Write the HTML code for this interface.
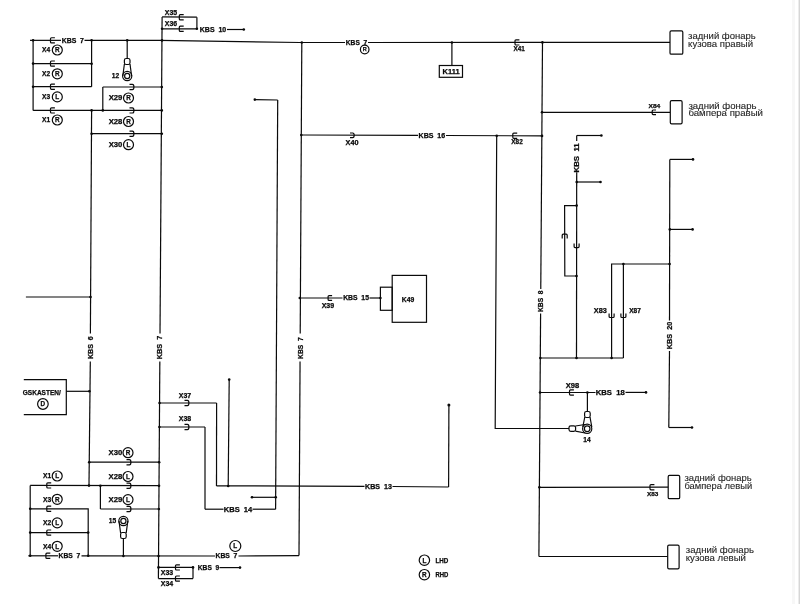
<!DOCTYPE html>
<html><head><meta charset="utf-8">
<style>
html,body{margin:0;padding:0;background:#fff;}
body{width:800px;height:604px;overflow:hidden;position:relative;}
svg{position:absolute;left:0;top:0;will-change:transform;}
path{fill:none;stroke:#0a0a0a;stroke-width:1.2;stroke-linejoin:miter;}
.o{fill:none;stroke:#0a0a0a;stroke-width:1.2;}
.f{fill:#0a0a0a;stroke:none;}
.t{font-family:"Liberation Sans",sans-serif;fill:#0a0a0a;font-weight:bold;stroke:#0a0a0a;stroke-width:0.25;}
.tb{font-family:"Liberation Sans",sans-serif;fill:#0a0a0a;font-weight:bold;stroke:#0a0a0a;stroke-width:0.25;}
.ru{font-family:"Liberation Sans",sans-serif;fill:#262626;font-size:9.2px;stroke:#262626;stroke-width:0.12;}
#edge{position:absolute;left:792px;top:0;width:3px;height:604px;background:#f7f7f7;}
#edge2{position:absolute;left:798px;top:0;width:1px;height:604px;background:#ececec;}
#edge3{position:absolute;left:799px;top:0;width:1px;height:604px;background:#d6d6d6;}
</style></head>
<body>
<div id="edge"></div><div id="edge2"></div><div id="edge3"></div>
<svg width="800" height="604" viewBox="0 0 800 604">
<path d="M30.00 40.35 L61.00 40.35"/>
<path d="M54.90 37.75 H51.50 Q50.50 37.75 50.50 38.75 V41.95 Q50.50 42.95 51.50 42.95 H54.90"/>
<text x="61.70" y="42.91" font-size="6.6" text-anchor="start" class="t" textLength="22.25" lengthAdjust="spacingAndGlyphs">KBS&#160;&#160;7</text>
<path d="M84.50 40.35 L160.00 40.35 L300.00 42.50 L345.00 42.49"/>
<text x="345.80" y="45.11" font-size="6.6" text-anchor="start" class="t" textLength="21.40" lengthAdjust="spacingAndGlyphs">KBS&#160;&#160;7</text>
<circle cx="364.70" cy="49.50" r="4.3" class="o"/>
<text x="364.70" y="51.48" font-size="5.5" text-anchor="middle" class="t">R</text>
<path d="M368.00 42.48 L670.00 42.40"/>
<circle cx="33.10" cy="40.35" r="1.3" class="f"/>
<circle cx="91.60" cy="40.35" r="1.3" class="f"/>
<circle cx="127.20" cy="40.35" r="1.3" class="f"/>
<circle cx="162.00" cy="40.40" r="1.3" class="f"/>
<circle cx="301.80" cy="42.50" r="1.3" class="f"/>
<circle cx="451.90" cy="42.45" r="1.3" class="f"/>
<circle cx="542.40" cy="42.40" r="1.3" class="f"/>
<path d="M519.40 39.80 H516.00 Q515.00 39.80 515.00 40.80 V44.00 Q515.00 45.00 516.00 45.00 H519.40"/>
<text x="513.40" y="51.31" font-size="6.6" text-anchor="start" class="t" textLength="11.30" lengthAdjust="spacingAndGlyphs">X41</text>
<path d="M33.10 40.40 L33.10 110.40"/>
<path d="M33.10 63.60 L91.60 63.70"/>
<path d="M33.10 86.70 L91.60 86.70"/>
<path d="M91.60 40.50 L91.60 86.70"/>
<path d="M33.10 110.40 L161.80 110.40"/>
<path d="M54.90 61.00 H51.50 Q50.50 61.00 50.50 62.00 V65.20 Q50.50 66.20 51.50 66.20 H54.90"/>
<circle cx="33.10" cy="63.60" r="1.3" class="f"/>
<path d="M54.90 84.10 H51.50 Q50.50 84.10 50.50 85.10 V88.30 Q50.50 89.30 51.50 89.30 H54.90"/>
<circle cx="33.10" cy="86.70" r="1.3" class="f"/>
<path d="M54.90 107.80 H51.50 Q50.50 107.80 50.50 108.80 V112.00 Q50.50 113.00 51.50 113.00 H54.90"/>
<circle cx="91.60" cy="63.70" r="1.3" class="f"/>
<text x="42.10" y="52.41" font-size="6.6" text-anchor="start" class="t" textLength="8.10" lengthAdjust="spacingAndGlyphs">X4</text>
<circle cx="57.30" cy="50.00" r="5.0" class="o"/>
<text x="57.30" y="52.30" font-size="6.4" text-anchor="middle" class="t">R</text>
<text x="42.10" y="76.21" font-size="6.6" text-anchor="start" class="t" textLength="8.10" lengthAdjust="spacingAndGlyphs">X2</text>
<circle cx="57.30" cy="73.80" r="5.0" class="o"/>
<text x="57.30" y="76.10" font-size="6.4" text-anchor="middle" class="t">R</text>
<text x="42.10" y="99.31" font-size="6.6" text-anchor="start" class="t" textLength="8.10" lengthAdjust="spacingAndGlyphs">X3</text>
<circle cx="57.30" cy="96.90" r="5.0" class="o"/>
<text x="57.30" y="99.20" font-size="6.4" text-anchor="middle" class="t">L</text>
<text x="42.10" y="122.41" font-size="6.6" text-anchor="start" class="t" textLength="8.10" lengthAdjust="spacingAndGlyphs">X1</text>
<circle cx="57.30" cy="120.00" r="5.0" class="o"/>
<text x="57.30" y="122.30" font-size="6.4" text-anchor="middle" class="t">R</text>
<path d="M91.60 110.40 L90.40 333.50"/>
<text x="-11.45" y="2.41" font-size="6.6" class="t" textLength="22.90" lengthAdjust="spacingAndGlyphs" transform="translate(90.30 347.65) rotate(-90)">KBS&#160;&#160;6</text>
<path d="M90.30 361.50 L89.00 485.50"/>
<circle cx="91.60" cy="110.40" r="1.3" class="f"/>
<circle cx="91.60" cy="133.70" r="1.3" class="f"/>
<path d="M91.60 133.70 L161.80 133.70"/>
<path d="M25.90 297.00 L90.50 297.00"/>
<circle cx="90.50" cy="297.00" r="1.3" class="f"/>
<path d="M66.30 391.30 L89.40 391.30"/>
<circle cx="89.40" cy="391.30" r="1.3" class="f"/>
<path d="M89.20 462.20 L159.00 462.20"/>
<circle cx="89.20" cy="462.20" r="1.3" class="f"/>
<path d="M102.80 86.90 L102.80 110.40"/>
<circle cx="102.80" cy="110.40" r="1.3" class="f"/>
<path d="M102.80 87.00 L161.80 87.00"/>
<path d="M129.50 84.40 H132.40 Q133.90 84.40 133.90 87.00 Q133.90 89.60 132.40 89.60 H129.50"/>
<circle cx="161.80" cy="87.00" r="1.3" class="f"/>
<path d="M129.50 107.80 H132.40 Q133.90 107.80 133.90 110.40 Q133.90 113.00 132.40 113.00 H129.50"/>
<circle cx="161.80" cy="110.40" r="1.3" class="f"/>
<path d="M129.50 131.10 H132.40 Q133.90 131.10 133.90 133.70 Q133.90 136.30 132.40 136.30 H129.50"/>
<circle cx="161.80" cy="133.70" r="1.3" class="f"/>
<text x="108.70" y="100.41" font-size="6.6" text-anchor="start" class="t" textLength="13.70" lengthAdjust="spacingAndGlyphs">X29</text>
<circle cx="128.50" cy="98.00" r="5.0" class="o"/>
<text x="128.50" y="100.30" font-size="6.4" text-anchor="middle" class="t">R</text>
<text x="108.70" y="123.91" font-size="6.6" text-anchor="start" class="t" textLength="13.70" lengthAdjust="spacingAndGlyphs">X28</text>
<circle cx="128.50" cy="121.50" r="5.0" class="o"/>
<text x="128.50" y="123.80" font-size="6.4" text-anchor="middle" class="t">R</text>
<text x="108.70" y="147.11" font-size="6.6" text-anchor="start" class="t" textLength="13.70" lengthAdjust="spacingAndGlyphs">X30</text>
<circle cx="128.50" cy="144.70" r="5.0" class="o"/>
<text x="128.50" y="147.00" font-size="6.4" text-anchor="middle" class="t">L</text>
<path d="M127.20 40.35 L127.20 58.50"/>
<rect x="124.40" y="58.50" width="5.6" height="6.00" rx="1.8" class="o"/>
<path d="M124.40 64.00 L122.80 76.00 M130.00 64.00 L131.60 76.00"/>
<circle cx="127.20" cy="76.00" r="4.6" class="o"/>
<circle cx="127.20" cy="76.00" r="2.6" class="o"/>
<text x="111.80" y="78.41" font-size="6.6" text-anchor="start" class="t" textLength="7.40" lengthAdjust="spacingAndGlyphs">12</text>
<path d="M162.10 16.90 L160.01 333.50"/>
<text x="-11.70" y="2.41" font-size="6.6" class="t" textLength="23.40" lengthAdjust="spacingAndGlyphs" transform="translate(159.92 347.50) rotate(-90)">KBS&#160;&#160;7</text>
<path d="M159.83 361.50 L158.40 578.60"/>
<path d="M162.10 16.90 L196.90 17.20"/>
<path d="M196.90 17.20 L196.90 28.80"/>
<path d="M162.10 28.80 L196.90 28.80"/>
<path d="M183.70 14.70 H180.30 Q179.30 14.70 179.30 15.70 V18.90 Q179.30 19.90 180.30 19.90 H183.70"/>
<path d="M183.70 26.20 H180.30 Q179.30 26.20 179.30 27.20 V30.40 Q179.30 31.40 180.30 31.40 H183.70"/>
<circle cx="162.10" cy="28.80" r="1.3" class="f"/>
<circle cx="196.90" cy="28.80" r="1.3" class="f"/>
<text x="164.80" y="14.91" font-size="6.6" text-anchor="start" class="t" textLength="12.30" lengthAdjust="spacingAndGlyphs">X35</text>
<text x="164.80" y="26.16" font-size="6.6" text-anchor="start" class="t" textLength="12.30" lengthAdjust="spacingAndGlyphs">X36</text>
<text x="199.80" y="31.91" font-size="6.6" text-anchor="start" class="t" textLength="26.40" lengthAdjust="spacingAndGlyphs">KBS&#160;&#160;10</text>
<path d="M227.00 29.50 L243.80 29.50"/>
<circle cx="243.80" cy="29.50" r="1.3" class="f"/>
<path d="M301.80 42.50 L300.21 333.50"/>
<text x="-10.82" y="2.41" font-size="6.6" class="t" textLength="21.65" lengthAdjust="spacingAndGlyphs" transform="translate(300.14 348.12) rotate(-90)">KBS&#160;&#160;7</text>
<path d="M300.06 361.50 L299.00 555.60"/>
<circle cx="301.29" cy="135.00" r="1.3" class="f"/>
<path d="M301.29 135.00 L418.00 135.30"/>
<path d="M350.00 133.00 H352.70 Q354.20 133.00 354.20 135.30 Q354.20 137.60 352.70 137.60 H350.00"/>
<text x="345.55" y="145.41" font-size="6.6" text-anchor="start" class="t" textLength="12.90" lengthAdjust="spacingAndGlyphs">X40</text>
<text x="418.55" y="137.91" font-size="6.6" text-anchor="start" class="t" textLength="26.65" lengthAdjust="spacingAndGlyphs">KBS&#160;&#160;16</text>
<path d="M446.00 135.50 L542.00 135.90"/>
<circle cx="496.70" cy="135.80" r="1.3" class="f"/>
<path d="M517.20 133.10 H513.80 Q512.80 133.10 512.80 134.10 V137.30 Q512.80 138.30 513.80 138.30 H517.20"/>
<text x="511.30" y="144.41" font-size="6.6" text-anchor="start" class="t" textLength="11.40" lengthAdjust="spacingAndGlyphs">X82</text>
<circle cx="542.00" cy="135.90" r="1.3" class="f"/>
<circle cx="299.80" cy="298.00" r="1.3" class="f"/>
<path d="M299.80 298.00 L342.50 298.00"/>
<path d="M332.10 295.60 H329.10 Q328.10 295.60 328.10 296.60 V299.40 Q328.10 300.40 329.10 300.40 H332.10"/>
<text x="321.70" y="308.01" font-size="6.6" text-anchor="start" class="t" textLength="12.50" lengthAdjust="spacingAndGlyphs">X39</text>
<text x="343.20" y="300.41" font-size="6.6" text-anchor="start" class="t" textLength="25.75" lengthAdjust="spacingAndGlyphs">KBS&#160;&#160;15</text>
<path d="M369.50 298.00 L380.40 298.00"/>
<circle cx="380.40" cy="298.00" r="1.3" class="f"/>
<rect x="380.4" y="287.2" width="11.8" height="23.1" class="o"/>
<rect x="392.2" y="275.4" width="34.3" height="46.9" class="o"/>
<text x="401.80" y="301.81" font-size="6.6" text-anchor="start" class="t" textLength="12.40" lengthAdjust="spacingAndGlyphs">K49</text>
<circle cx="254.80" cy="99.60" r="1.3" class="f"/>
<path d="M254.80 99.60 L277.70 100.00"/>
<path d="M277.70 100.00 L275.60 509.20"/>
<circle cx="252.00" cy="497.30" r="1.3" class="f"/>
<path d="M252.00 497.30 L275.70 497.30"/>
<circle cx="275.70" cy="497.30" r="1.3" class="f"/>
<path d="M205.00 509.20 L223.50 509.20"/>
<text x="223.80" y="511.61" font-size="6.6" text-anchor="start" class="t" textLength="28.40" lengthAdjust="spacingAndGlyphs">KBS&#160;&#160;14</text>
<path d="M252.50 509.20 L275.60 509.20"/>
<circle cx="229.20" cy="379.60" r="1.3" class="f"/>
<path d="M229.20 379.60 L228.20 486.00"/>
<circle cx="228.20" cy="486.00" r="1.3" class="f"/>
<circle cx="159.55" cy="403.00" r="1.3" class="f"/>
<path d="M159.55 403.00 L216.60 403.00"/>
<path d="M216.60 403.00 L216.50 486.00"/>
<path d="M184.50 400.40 H187.40 Q188.90 400.40 188.90 403.00 Q188.90 405.60 187.40 405.60 H184.50"/>
<text x="178.80" y="398.01" font-size="6.6" text-anchor="start" class="t" textLength="12.40" lengthAdjust="spacingAndGlyphs">X37</text>
<circle cx="159.40" cy="427.00" r="1.3" class="f"/>
<path d="M159.40 427.00 L205.00 427.00"/>
<path d="M205.00 427.00 L205.00 509.20"/>
<path d="M184.50 424.40 H187.40 Q188.90 424.40 188.90 427.00 Q188.90 429.60 187.40 429.60 H184.50"/>
<text x="178.80" y="421.41" font-size="6.6" text-anchor="start" class="t" textLength="12.40" lengthAdjust="spacingAndGlyphs">X38</text>
<path d="M216.50 485.80 L364.50 486.30"/>
<text x="365.10" y="488.81" font-size="6.6" text-anchor="start" class="t" textLength="26.80" lengthAdjust="spacingAndGlyphs">KBS&#160;&#160;13</text>
<path d="M392.50 486.50 L448.60 487.00"/>
<path d="M448.60 487.00 L448.90 405.00"/>
<circle cx="448.90" cy="405.00" r="1.5" class="f"/>
<path d="M23.80 379.60 L66.30 379.60 L66.30 414.60 L23.80 414.60"/>
<text x="22.80" y="395.16" font-size="6.6" text-anchor="start" class="t" textLength="38.00" lengthAdjust="spacingAndGlyphs">GSKASTEN/</text>
<circle cx="42.90" cy="404.00" r="5.3" class="o"/>
<text x="42.90" y="406.30" font-size="6.4" text-anchor="middle" class="t">D</text>
<path d="M30.20 485.40 L30.20 555.80"/>
<path d="M30.20 485.40 L159.00 485.70"/>
<circle cx="89.00" cy="485.60" r="1.3" class="f"/>
<path d="M30.20 508.80 L88.20 508.80 L88.20 555.80"/>
<path d="M30.20 532.60 L88.20 532.60"/>
<circle cx="30.20" cy="508.80" r="1.3" class="f"/>
<circle cx="30.20" cy="532.60" r="1.3" class="f"/>
<circle cx="88.20" cy="532.60" r="1.3" class="f"/>
<path d="M51.20 482.80 H47.80 Q46.80 482.80 46.80 483.80 V487.00 Q46.80 488.00 47.80 488.00 H51.20"/>
<path d="M51.20 506.20 H47.80 Q46.80 506.20 46.80 507.20 V510.40 Q46.80 511.40 47.80 511.40 H51.20"/>
<path d="M51.20 530.00 H47.80 Q46.80 530.00 46.80 531.00 V534.20 Q46.80 535.20 47.80 535.20 H51.20"/>
<text x="43.00" y="478.41" font-size="6.6" text-anchor="start" class="t" textLength="8.20" lengthAdjust="spacingAndGlyphs">X1</text>
<circle cx="57.20" cy="476.00" r="5.0" class="o"/>
<text x="57.20" y="478.30" font-size="6.4" text-anchor="middle" class="t">L</text>
<text x="43.00" y="501.71" font-size="6.6" text-anchor="start" class="t" textLength="8.20" lengthAdjust="spacingAndGlyphs">X3</text>
<circle cx="57.20" cy="499.30" r="5.0" class="o"/>
<text x="57.20" y="501.60" font-size="6.4" text-anchor="middle" class="t">R</text>
<text x="43.00" y="525.31" font-size="6.6" text-anchor="start" class="t" textLength="8.20" lengthAdjust="spacingAndGlyphs">X2</text>
<circle cx="57.20" cy="522.90" r="5.0" class="o"/>
<text x="57.20" y="525.20" font-size="6.4" text-anchor="middle" class="t">L</text>
<text x="43.00" y="548.71" font-size="6.6" text-anchor="start" class="t" textLength="8.20" lengthAdjust="spacingAndGlyphs">X4</text>
<circle cx="57.20" cy="546.30" r="5.0" class="o"/>
<text x="57.20" y="548.60" font-size="6.4" text-anchor="middle" class="t">L</text>
<path d="M28.30 555.80 L58.00 555.80"/>
<path d="M50.30 553.20 H46.90 Q45.90 553.20 45.90 554.20 V557.40 Q45.90 558.40 46.90 558.40 H50.30"/>
<text x="58.55" y="558.31" font-size="6.6" text-anchor="start" class="t" textLength="21.65" lengthAdjust="spacingAndGlyphs">KBS&#160;&#160;7</text>
<path d="M81.50 555.80 L215.00 556.00"/>
<text x="215.50" y="558.41" font-size="6.6" text-anchor="start" class="t" textLength="21.90" lengthAdjust="spacingAndGlyphs">KBS&#160;&#160;7</text>
<path d="M238.50 556.00 L299.00 555.60"/>
<circle cx="30.20" cy="555.80" r="1.3" class="f"/>
<circle cx="88.20" cy="555.80" r="1.3" class="f"/>
<circle cx="123.40" cy="556.00" r="1.3" class="f"/>
<circle cx="158.55" cy="556.00" r="1.3" class="f"/>
<circle cx="235.30" cy="546.00" r="5.5" class="o"/>
<text x="235.30" y="548.30" font-size="6.4" text-anchor="middle" class="t">L</text>
<path d="M100.40 485.70 L100.40 509.00"/>
<circle cx="100.40" cy="485.70" r="1.3" class="f"/>
<path d="M100.40 509.00 L158.50 509.00"/>
<path d="M126.50 459.60 H129.40 Q130.90 459.60 130.90 462.20 Q130.90 464.80 129.40 464.80 H126.50"/>
<circle cx="159.16" cy="462.20" r="1.3" class="f"/>
<path d="M126.50 483.10 H129.40 Q130.90 483.10 130.90 485.70 Q130.90 488.30 129.40 488.30 H126.50"/>
<circle cx="159.01" cy="485.70" r="1.3" class="f"/>
<path d="M126.50 506.40 H129.40 Q130.90 506.40 130.90 509.00 Q130.90 511.60 129.40 511.60 H126.50"/>
<circle cx="158.86" cy="509.00" r="1.3" class="f"/>
<text x="108.50" y="455.11" font-size="6.6" text-anchor="start" class="t" textLength="13.70" lengthAdjust="spacingAndGlyphs">X30</text>
<circle cx="128.00" cy="452.70" r="5.0" class="o"/>
<text x="128.00" y="455.00" font-size="6.4" text-anchor="middle" class="t">R</text>
<text x="108.50" y="478.91" font-size="6.6" text-anchor="start" class="t" textLength="13.70" lengthAdjust="spacingAndGlyphs">X28</text>
<circle cx="128.00" cy="476.50" r="5.0" class="o"/>
<text x="128.00" y="478.80" font-size="6.4" text-anchor="middle" class="t">L</text>
<text x="108.50" y="502.01" font-size="6.6" text-anchor="start" class="t" textLength="13.70" lengthAdjust="spacingAndGlyphs">X29</text>
<circle cx="128.00" cy="499.60" r="5.0" class="o"/>
<text x="128.00" y="501.90" font-size="6.4" text-anchor="middle" class="t">L</text>
<rect x="120.60" y="532.50" width="5.6" height="6" rx="1.8" class="o"/>
<path d="M120.60 533.00 L119.00 521.00 M126.20 533.00 L127.80 521.00"/>
<circle cx="123.40" cy="521.00" r="4.6" class="o"/>
<circle cx="123.40" cy="521.00" r="2.6" class="o"/>
<path d="M123.40 538.50 L123.40 556.00"/>
<text x="108.80" y="523.41" font-size="6.6" text-anchor="start" class="t" textLength="7.40" lengthAdjust="spacingAndGlyphs">15</text>
<path d="M158.40 567.40 L193.00 567.40"/>
<path d="M193.00 567.40 L193.00 578.60"/>
<path d="M158.40 578.60 L193.00 578.60"/>
<circle cx="158.50" cy="567.40" r="1.3" class="f"/>
<circle cx="193.00" cy="567.40" r="1.3" class="f"/>
<path d="M179.90 564.80 H176.50 Q175.50 564.80 175.50 565.80 V569.00 Q175.50 570.00 176.50 570.00 H179.90"/>
<path d="M179.90 576.00 H176.50 Q175.50 576.00 175.50 577.00 V580.20 Q175.50 581.20 176.50 581.20 H179.90"/>
<text x="160.80" y="574.81" font-size="6.6" text-anchor="start" class="t" textLength="12.40" lengthAdjust="spacingAndGlyphs">X33</text>
<text x="160.80" y="586.41" font-size="6.6" text-anchor="start" class="t" textLength="12.40" lengthAdjust="spacingAndGlyphs">X34</text>
<text x="197.80" y="569.81" font-size="6.6" text-anchor="start" class="t" textLength="21.40" lengthAdjust="spacingAndGlyphs">KBS&#160;&#160;9</text>
<path d="M219.50 567.60 L240.00 567.60"/>
<circle cx="240.00" cy="567.60" r="1.3" class="f"/>
<path d="M451.90 42.45 L451.90 65.50"/>
<rect x="439.3" y="65.5" width="23.2" height="11.8" class="o"/>
<text x="442.55" y="73.81" font-size="6.6" text-anchor="start" class="t" textLength="17.05" lengthAdjust="spacingAndGlyphs">K111</text>
<path d="M542.50 42.00 L540.77 289.00"/>
<text x="-10.80" y="2.41" font-size="6.6" class="t" textLength="21.60" lengthAdjust="spacingAndGlyphs" transform="translate(540.69 301.20) rotate(-90)">KBS&#160;&#160;8</text>
<path d="M540.60 313.40 L538.90 556.50"/>
<path d="M542.01 112.30 L670.00 112.30"/>
<circle cx="542.01" cy="112.30" r="1.3" class="f"/>
<path d="M656.00 110.00 H653.20 Q652.20 110.00 652.20 111.00 V113.60 Q652.20 114.60 653.20 114.60 H656.00"/>
<text x="648.50" y="108.19" font-size="6.0" text-anchor="start" class="tb" textLength="11.80" lengthAdjust="spacingAndGlyphs">X84</text>
<rect x="670" y="30.9" width="12.8" height="23.3" rx="1.3" class="o"/>
<rect x="670.3" y="100.6" width="11.8" height="23.3" rx="1.3" class="o"/>
<path d="M576.70 135.50 L601.40 135.50"/>
<circle cx="601.40" cy="135.50" r="1.3" class="f"/>
<path d="M576.70 135.50 L576.70 141.00"/>
<text x="-14.60" y="2.41" font-size="6.6" class="t" textLength="29.20" lengthAdjust="spacingAndGlyphs" transform="translate(576.70 157.90) rotate(-90)">KBS&#160;&#160;11</text>
<path d="M576.70 172.30 L576.50 358.00"/>
<path d="M576.70 182.00 L600.50 182.00"/>
<circle cx="576.70" cy="182.00" r="1.3" class="f"/>
<circle cx="600.50" cy="182.00" r="1.3" class="f"/>
<path d="M576.60 205.60 L564.60 205.60 L564.80 276.00 L576.50 276.00"/>
<circle cx="576.60" cy="205.60" r="1.3" class="f"/>
<circle cx="576.50" cy="276.00" r="1.3" class="f"/>
<path d="M562.20 238.40 V235.20 Q562.20 234.20 563.20 234.20 H566.20 Q567.20 234.20 567.20 235.20 V238.40"/>
<path d="M574.10 243.60 V246.60 Q574.10 247.60 575.10 247.60 H578.10 Q579.10 247.60 579.10 246.60 V243.60"/>
<path d="M669.80 159.40 L693.00 159.40"/>
<circle cx="693.00" cy="159.40" r="1.3" class="f"/>
<path d="M669.80 229.40 L692.60 229.40"/>
<circle cx="669.80" cy="229.40" r="1.3" class="f"/>
<circle cx="692.60" cy="229.40" r="1.3" class="f"/>
<path d="M669.80 159.40 L669.50 320.50"/>
<text x="-13.70" y="2.41" font-size="6.6" class="t" textLength="27.40" lengthAdjust="spacingAndGlyphs" transform="translate(669.50 335.50) rotate(-90)">KBS&#160;&#160;20</text>
<path d="M669.50 351.00 L668.80 427.50"/>
<path d="M668.80 427.50 L692.00 427.50"/>
<circle cx="692.00" cy="427.50" r="1.3" class="f"/>
<path d="M540.29 358.00 L623.40 358.00"/>
<circle cx="540.29" cy="358.00" r="1.3" class="f"/>
<circle cx="576.50" cy="358.00" r="1.3" class="f"/>
<circle cx="611.60" cy="358.00" r="1.3" class="f"/>
<path d="M611.60 358.00 L611.60 264.00 L669.60 264.00"/>
<path d="M623.40 358.00 L623.40 264.00"/>
<circle cx="623.40" cy="264.00" r="1.3" class="f"/>
<circle cx="669.60" cy="264.00" r="1.3" class="f"/>
<path d="M609.10 313.50 V316.50 Q609.10 317.50 610.10 317.50 H613.10 Q614.10 317.50 614.10 316.50 V313.50"/>
<path d="M620.90 313.50 V316.50 Q620.90 317.50 621.90 317.50 H624.90 Q625.90 317.50 625.90 316.50 V313.50"/>
<text x="593.80" y="312.81" font-size="6.6" text-anchor="start" class="t" textLength="13.00" lengthAdjust="spacingAndGlyphs">X83</text>
<text x="629.20" y="312.81" font-size="6.6" text-anchor="start" class="t" textLength="11.60" lengthAdjust="spacingAndGlyphs">X87</text>
<path d="M540.05 392.50 L595.50 392.50"/>
<circle cx="540.05" cy="392.50" r="1.3" class="f"/>
<circle cx="587.40" cy="392.50" r="1.3" class="f"/>
<path d="M573.90 389.90 H570.50 Q569.50 389.90 569.50 390.90 V394.10 Q569.50 395.10 570.50 395.10 H573.90"/>
<text x="565.80" y="388.41" font-size="6.6" text-anchor="start" class="t" textLength="13.40" lengthAdjust="spacingAndGlyphs">X98</text>
<text x="595.80" y="394.81" font-size="6.6" text-anchor="start" class="t" textLength="28.90" lengthAdjust="spacingAndGlyphs">KBS&#160;&#160;18</text>
<path d="M625.50 392.40 L646.00 392.40"/>
<circle cx="646.00" cy="392.40" r="1.3" class="f"/>
<path d="M587.40 392.50 L587.40 411.50"/>
<path d="M496.70 135.80 L495.20 428.50 L569.00 428.50"/>
<rect x="584.6" y="411.5" width="5.6" height="6" rx="1.8" class="o"/>
<path d="M584.8 417 L582.8 427 M590.0 417 L591.8 427"/>
<rect x="569.0" y="425.8" width="6.6" height="5.6" rx="1.8" class="o"/>
<path d="M575.5 426 L585 424.5 M575.5 431.2 L585 433"/>
<circle cx="587.2" cy="428.7" r="4.6" class="o"/>
<circle cx="587.2" cy="428.7" r="2.8" class="o"/>
<text x="583.30" y="441.91" font-size="6.6" text-anchor="start" class="t" textLength="7.40" lengthAdjust="spacingAndGlyphs">14</text>
<path d="M539.38 487.30 L668.20 487.20"/>
<circle cx="539.38" cy="487.30" r="1.3" class="f"/>
<path d="M654.40 484.60 H651.00 Q650.00 484.60 650.00 485.60 V488.80 Q650.00 489.80 651.00 489.80 H654.40"/>
<text x="647.10" y="496.29" font-size="6.0" text-anchor="start" class="tb" textLength="11.30" lengthAdjust="spacingAndGlyphs">X83</text>
<rect x="668.2" y="475.4" width="11.5" height="23.3" rx="1.3" class="o"/>
<path d="M538.90 556.50 L667.70 556.50"/>
<rect x="667.7" y="545.1" width="11.4" height="23.7" rx="1.3" class="o"/>
<circle cx="424.40" cy="560.20" r="5.2" class="o"/>
<text x="424.40" y="562.50" font-size="6.4" text-anchor="middle" class="t">L</text>
<circle cx="424.40" cy="574.70" r="5.2" class="o"/>
<text x="424.40" y="577.00" font-size="6.4" text-anchor="middle" class="t">R</text>
<text x="435.40" y="562.71" font-size="6.6" text-anchor="start" class="tb" textLength="12.90" lengthAdjust="spacingAndGlyphs">LHD</text>
<text x="435.40" y="577.11" font-size="6.6" text-anchor="start" class="tb" textLength="12.90" lengthAdjust="spacingAndGlyphs">RHD</text>
<text x="688.1" y="38.8" class="ru" textLength="67.7" lengthAdjust="spacingAndGlyphs">задний фонарь</text>
<text x="688.1" y="47.0" class="ru" textLength="64.9" lengthAdjust="spacingAndGlyphs">кузова правый</text>
<text x="688.4" y="108.8" class="ru" textLength="68.10000000000001" lengthAdjust="spacingAndGlyphs">задний фонарь</text>
<text x="688.4" y="115.8" class="ru" textLength="74.60000000000001" lengthAdjust="spacingAndGlyphs">бампера правый</text>
<text x="684.4" y="480.8" class="ru" textLength="67.4" lengthAdjust="spacingAndGlyphs">задний фонарь</text>
<text x="684.4" y="489.0" class="ru" textLength="67.80000000000001" lengthAdjust="spacingAndGlyphs">бампера левый</text>
<text x="685.8000000000001" y="552.5" class="ru" textLength="68.2" lengthAdjust="spacingAndGlyphs">задний фонарь</text>
<text x="685.8000000000001" y="561.0" class="ru" textLength="60.199999999999996" lengthAdjust="spacingAndGlyphs">кузова левый</text>
</svg>
</body></html>
